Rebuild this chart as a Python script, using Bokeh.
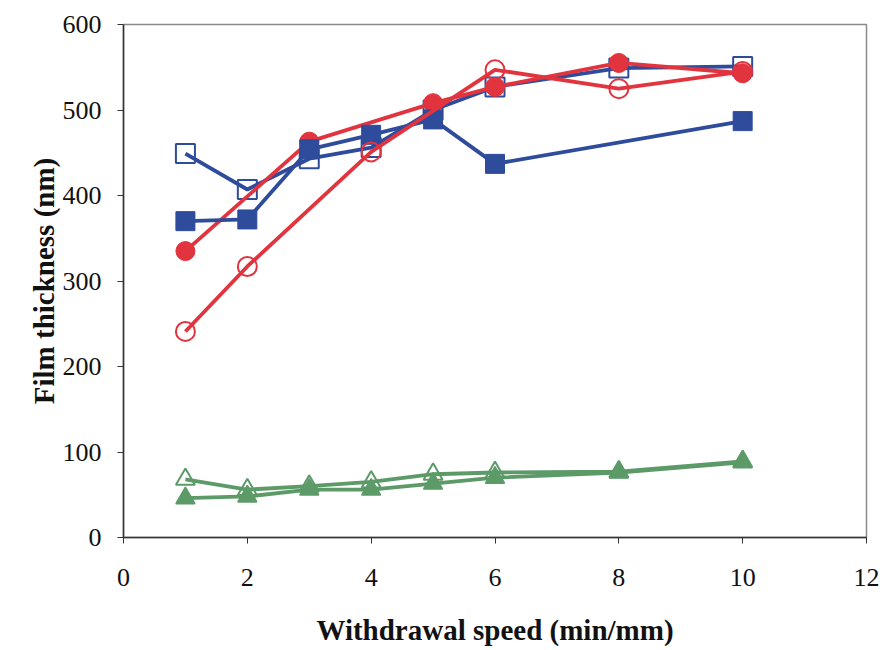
from bokeh.plotting import figure
from bokeh.embed import file_html
from bokeh.resources import INLINE
from bokeh.models import Range1d, FixedTicker

# Data
x_red_filled = [1, 3, 5, 6, 8, 10]
y_red_filled = [335, 463, 508, 527, 555, 543]

x_red_open = [1, 2, 4, 6, 8, 10]
y_red_open = [241, 317, 451, 547, 525, 545]

x_blue_open = [1, 2, 3, 4, 5, 6, 8, 10]
y_blue_open = [449, 407, 443, 456, 500, 527, 549, 551]

x_blue_filled = [1, 2, 3, 4, 5, 6, 10]
y_blue_filled = [370, 372, 454, 471, 489, 437, 487]

x_green_open = [1, 2, 3, 4, 5, 6, 8, 10]
y_green_open = [68, 56, 60, 65, 74, 76, 77, 89]

x_green_filled = [1, 2, 3, 4, 5, 6, 8, 10]
y_green_filled = [46, 48, 56, 56, 63, 70, 76, 88]

x_ticks = [0, 2, 4, 6, 8, 10, 12]
y_ticks = [0, 100, 200, 300, 400, 500, 600]

RED = "#E2343E"
BLUE = "#2F4B9B"
GREEN = "#5C9A68"
FONT = "Liberation Serif"

p = figure(width=887, height=650, output_backend="svg", toolbar_location=None,
           x_range=Range1d(0, 12), y_range=Range1d(0, 600),
           min_border_left=123, min_border_right=21, min_border_top=24, min_border_bottom=113)

p.outline_line_color = "#8a8a8a"
p.outline_line_width = 1.5
p.grid.visible = False
p.background_fill_color = "white"
p.border_fill_color = "white"

for ax in (p.xaxis[0], p.yaxis[0]):
    ax.axis_line_color = "#333333"
    ax.axis_line_width = 1.5
    ax.major_tick_line_color = "#333333"
    ax.major_tick_out = 6
    ax.major_tick_in = 0
    ax.minor_tick_line_color = None
    ax.major_label_text_font = FONT
    ax.major_label_text_font_size = "26px"
    ax.major_label_text_color = "#111111"
    ax.axis_label_text_font = FONT
    ax.axis_label_text_font_size = "29px"
    ax.axis_label_text_font_style = "bold"
    ax.axis_label_text_color = "#111111"

p.xaxis.ticker = FixedTicker(ticks=x_ticks)
p.yaxis.ticker = FixedTicker(ticks=y_ticks)
p.xaxis.axis_label = "Withdrawal speed (min/mm)"
p.yaxis.axis_label = "Film thickness (nm)"
p.xaxis.major_label_standoff = 25
p.yaxis.major_label_standoff = 16
p.xaxis.axis_label_standoff = 25
p.yaxis.axis_label_standoff = 0

LW = 3.8
MS = 19

# green
p.line(x_green_filled, y_green_filled, line_color=GREEN, line_width=LW)
p.scatter(x_green_filled, y_green_filled, marker="triangle", size=MS,
          fill_color=GREEN, line_color=GREEN, line_width=1.5)
p.line(x_green_open, y_green_open, line_color=GREEN, line_width=LW)
p.scatter(x_green_open, y_green_open, marker="triangle", size=MS,
          fill_alpha=0, line_color=GREEN, line_width=2)

# blue open
p.line(x_blue_open, y_blue_open, line_color=BLUE, line_width=LW)
p.scatter(x_blue_open, y_blue_open, marker="square", size=MS,
          fill_alpha=0, line_color=BLUE, line_width=2)

# red filled
p.line(x_red_filled, y_red_filled, line_color=RED, line_width=LW)
p.scatter(x_red_filled, y_red_filled, marker="circle", size=MS,
          fill_color=RED, line_color=RED, line_width=1)

# blue filled
p.line(x_blue_filled, y_blue_filled, line_color=BLUE, line_width=LW)
p.scatter(x_blue_filled, y_blue_filled, marker="square", size=MS,
          fill_color=BLUE, line_color=BLUE, line_width=1)

# red open
p.line(x_red_open, y_red_open, line_color=RED, line_width=LW)
p.scatter(x_red_open, y_red_open, marker="circle", size=MS,
          fill_alpha=0, line_color=RED, line_width=2)

open("out.html", "w").write(file_html(p, INLINE))
